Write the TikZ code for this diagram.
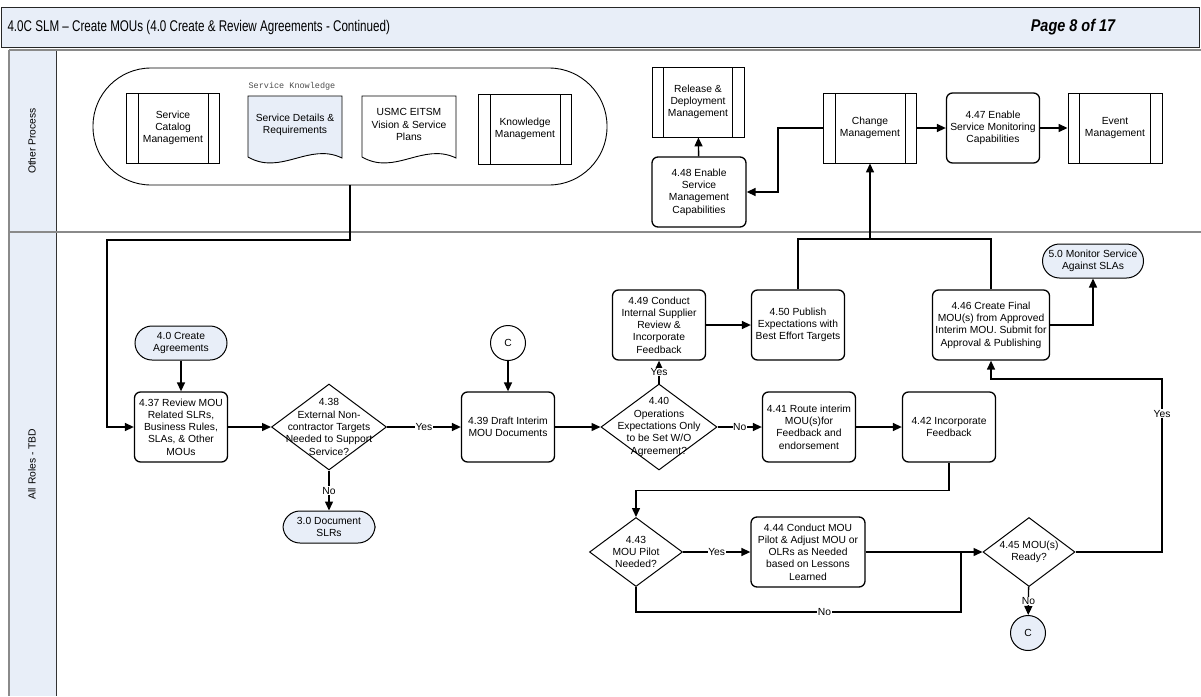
\documentclass[tikz,border=0pt]{standalone}
\usepackage{fontspec}
\setmainfont{Liberation Sans}
\newfontfamily\narrowfont[FakeStretch=0.75]{Liberation Sans}
\newfontfamily\pagefont[FakeStretch=0.85]{Liberation Sans}
\newfontfamily\monofont{Liberation Mono}
\usetikzlibrary{arrows.meta,shapes.geometric,calc}
\definecolor{panel}{HTML}{E8EEF8}
\definecolor{frame}{HTML}{8A8A8A}
\tikzset{
  flow/.style={line width=1.4pt, -{Triangle[length=9pt,width=8pt]}},
  link/.style={line width=1.4pt},
  proc/.style={draw, line width=1.3pt, rounded corners=6pt, align=center,
    inner sep=1pt, minimum width=93pt, minimum height=70pt},
  sub/.style={draw, line width=0.9pt, align=center, inner sep=1pt,
    minimum width=93pt, minimum height=70pt,
    path picture={
      \draw[line width=0.9pt] ([xshift=11.5pt]path picture bounding box.north west)
        -- ([xshift=11.5pt]path picture bounding box.south west);
      \draw[line width=0.9pt] ([xshift=-11.5pt]path picture bounding box.north east)
        -- ([xshift=-11.5pt]path picture bounding box.south east);}},
  term/.style={draw, line width=1pt, fill=panel, rounded corners=17pt, align=center,
    minimum width=92pt, minimum height=34pt, inner sep=1pt},
  decision/.style={diamond, draw, line width=1pt, minimum width=115pt,
    minimum height=86pt, inner sep=0pt},
  dtext/.style={align=center, inner sep=0pt},
  conn/.style={circle, draw, line width=1pt, minimum size=35pt, inner sep=0pt},
  lbl/.style={fill=white, inner sep=0.6pt},
}
\begin{document}
\begin{tikzpicture}[x=1pt,y=-1pt,font=\fontsize{10.3}{12.3}\selectfont]
\useasboundingbox (0,0) rectangle (1201,696);

% page header
\node[draw=black!85, line width=1pt, fill=panel, minimum width=1198pt,
  minimum height=40pt, inner sep=0pt, anchor=north west] (hdr) at (1,7) {};
\node[anchor=west, font=\narrowfont\fontsize{15.5}{18}\selectfont] (title) at (4,27)
  {4.0C SLM – Create MOUs (4.0 Create \& Review Agreements - Continued)};
\node[font=\pagefont\bfseries\itshape\fontsize{17}{19}\selectfont] (page) at (1073,27)
  {Page 8 of 17};

% swimlanes
\fill[panel] (9,50) rectangle (56,696);
\draw[frame, line width=2.5pt] (9,50) -- (1201,50);
\draw[frame, line width=2.5pt] (9,50) -- (9,696);
\draw[black!80, line width=0.8pt] (56,51) -- (56,696);
\draw[frame, line width=2pt] (9,232) -- (1201,232);
\node[rotate=90] (lane1) at (32,141) {Other Process};
\node[rotate=90] (lane2) at (32,464) {All Roles - TBD};

% service knowledge group
\node[draw, line width=0.9pt, rounded corners=58pt, minimum width=514pt,
  minimum height=117pt] (kb) at (350,126.5) {};
\node[sub] (scm) at (173,128) {Service\\Catalog\\Management};
\node[font=\monofont\fontsize{8.5}{10}\selectfont, text=black!70] (skl) at (292,86)
  {Service Knowledge};
\draw[line width=0.9pt, fill=panel] (248,157) -- (248,96) -- (342,96) -- (342,158)
  .. controls (309,142) and (281,176) .. (248,157);
\node[align=center] (sdr) at (295,124.5) {Service Details \&\\Requirements};
\draw[line width=0.9pt, fill=white] (362,157) -- (362,96) -- (456,96) -- (456,158)
  .. controls (423,142) and (395,176) .. (362,157);
\node[align=center] (usmc) at (409,124.5) {USMC EITSM\\Vision \& Service\\Plans};
\node[sub] (km) at (525,129) {Knowledge\\Management};

% other processes
\node[sub, minimum width=92pt] (rdm) at (698,102) {Release \&\\Deployment\\Management};
\node[proc, minimum width=94pt] (r448) at (699,192)
  {4.48 Enable\\Service\\Management\\Capabilities};
\node[sub] (cm) at (870,128) {Change\\Management};
\node[proc] (r447) at (993,128) {4.47 Enable\\Service Monitoring\\Capabilities};
\node[sub, minimum width=94pt] (evm) at (1115,128) {Event\\Management};

% main flow
\node[term] (t40) at (181,343) {4.0 Create\\Agreements};
\node[proc] (r437) at (181,427)
  {4.37 Review MOU\\Related SLRs,\\Business Rules,\\SLAs, \& Other\\MOUs};
\node[decision, label={[dtext]center:{4.38\\External Non-\\contractor Targets\\Needed to  Support\\Service?}}]
  (d438) at (329,427) {};
\node[term, minimum height=32pt] (t30) at (329,527) {3.0 Document\\SLRs};
\node[conn] (c1) at (508,343) {C};
\node[proc] (r439) at (508,427) {4.39 Draft Interim\\MOU Documents};
\node[decision, minimum width=116pt, label={[dtext]center:{4.40\\Operations\\Expectations Only\\to be Set W/O\\Agreement?}}]
  (d440) at (659,427) {};
\node[proc] (r449) at (659,325)
  {4.49 Conduct\\Internal Supplier\\Review \&\\Incorporate\\Feedback};
\node[proc] (r450) at (798,325) {4.50 Publish\\Expectations with\\Best Effort Targets};
\node[proc] (r441) at (809,427) {4.41 Route interim\\MOU(s)for\\Feedback and\\endorsement};
\node[proc] (r442) at (949,427) {4.42 Incorporate\\Feedback};
\node[proc, minimum width=117pt] (r446) at (991,325)
  {4.46 Create Final\\MOU(s) from Approved\\Interim MOU. Submit for\\Approval \& Publishing};
\node[term, minimum width=101pt] (t50) at (1093,261) {5.0 Monitor Service\\Against SLAs};
\node[decision, minimum width=93pt, minimum height=69pt,
  label={[dtext]center:{4.43\\MOU Pilot\\Needed?}}] (d443) at (636,552) {};
\node[proc, minimum width=114pt] (r444) at (808,552)
  {4.44 Conduct MOU\\Pilot  \& Adjust MOU or\\OLRs as Needed\\based on Lessons\\Learned};
\node[decision, minimum width=92pt, minimum height=69pt,
  label={[dtext]center:{4.45 MOU(s)\\Ready?}}] (d445) at (1029,552) {};
\node[conn, fill=panel] (c2) at (1028,633) {C};

% bend points
\coordinate (jA) at (107,240);
\coordinate (jB) at (870,239);
\coordinate (jC) at (961,612);
\coordinate (jD) at (1162,379);

% connectors
\draw[flow] (kb.south) |- (jA) |- (r437.west);
\draw[flow] (t40) -- (r437);
\draw[flow] (r437) -- (d438);
\draw[flow] (d438) -- node[lbl]{Yes} (r439);
\draw[flow] (d438) -- node[lbl]{No} (t30);
\draw[flow] (c1) -- (r439);
\draw[flow] (r439) -- (d440);
\draw[flow] (d440) -- node[lbl]{Yes} (r449);
\draw[flow] (r449) -- (r450);
\draw[link] (r450.north) |- (jB);
\draw[link] (r446.north) |- (jB);
\draw[flow] (jB) -- (cm.south);
\draw[flow] (d440) -- node[lbl]{No} (r441);
\draw[flow] (r441) -- (r442);
\draw[flow] (r442.south) -- ++(0,28) -| (d443.north);
\draw[flow] (d443) -- node[lbl]{Yes} (r444);
\draw[flow] (r444) -- (d445);
\draw[link] (d443.south) |- node[lbl, pos=0.79]{No} (jC) -- (jC |- d445.west);
\draw[flow] (d445.east) -| node[lbl, pos=0.9]{Yes} (jD) -| (r446.south);
\draw[flow] (d445) -- node[lbl]{No} (c2);
\draw[flow] (r446.east) -| (t50.south);
\draw[flow] (cm) -- (r447);
\draw[flow] (r447) -- (evm);
\draw[flow] (r448) -- (rdm);
\draw[flow] (cm.west) -- ++(-45,0) |- (r448.east);
\end{tikzpicture}
\end{document}
